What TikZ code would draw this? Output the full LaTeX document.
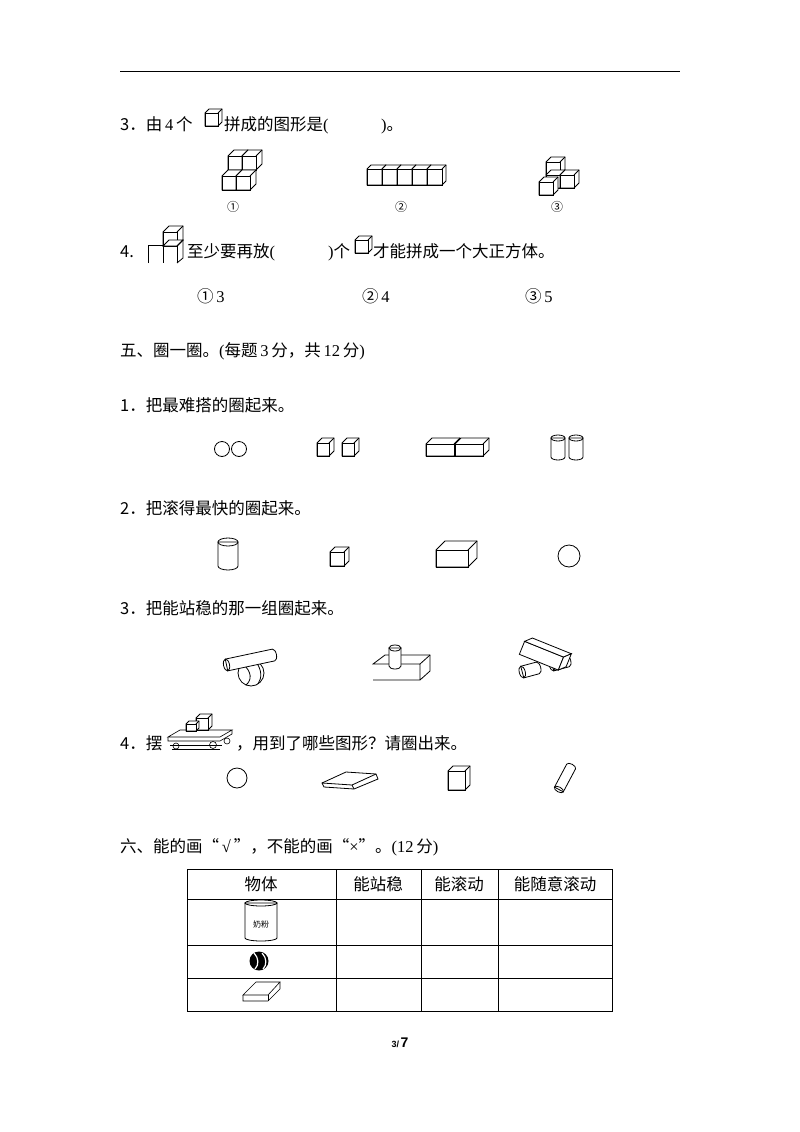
\documentclass[tikz,border=0pt]{standalone}
\usepackage{fontspec}
\setmainfont{Liberation Serif}
\newfontfamily\cjk{Noto Sans CJK SC}
\newfontfamily\ftsans{Liberation Sans}
\tikzset{txt/.style={anchor=base west,inner sep=0pt,font=\fontsize{16.5}{19}\selectfont\cjk},
 ln/.style={line width=0.8pt}}
\newcommand\cuboid[5]{% x y(top-left of front) w h d
 \filldraw[ln,fill=white] (#1,#2) -- ++(#5,-#5) -- ++(#3,0) -- ++(0,#4) -- ++(-#5,#5) -- ++(-#3,0) -- cycle;
 \draw[ln] (#1,#2) rectangle ++(#3,#4); \draw[ln] (#1+#3,#2) -- ++(#5,-#5);}
\newcommand\cyl[5]{% cx top r h ry
 \filldraw[ln,fill=white] (#1-#3,#2) -- (#1-#3,#2+#4) arc[start angle=180,end angle=0,x radius=#3,y radius=#5] -- (#1+#3,#2) -- cycle;
 \draw[ln] (#1,#2) ellipse[x radius=#3,y radius=#5];}
\newcommand\rod[5]{% cx cy length r angle
 \begin{scope}[shift={(#1,#2)},rotate=#5]
 \filldraw[ln,fill=white] (-#3/2,-#4) -- (#3/2,-#4) arc[start angle=-90,end angle=90,x radius=#4/2,y radius=#4] -- (-#3/2,#4) -- cycle;
 \draw[ln] (-#3/2,0) ellipse[x radius=#4/2,y radius=#4];
 \end{scope}}
\begin{document}
\begin{tikzpicture}[x=1pt,y=-1pt]
\useasboundingbox (0,0) rectangle (800,1132);
\draw[line width=1pt] (120,72) -- (680,72);
% Q3
\node[txt] (q3a) at (120,130) {3．由\,\textrm{4}\,个};
\cuboid{205}{113}{13}{13}{4}
\node[txt] (q3b) at (224,130) {拼成的图形是\textrm{(}};
\node[txt] (q3c) at (381,130) {\textrm{)}。};
% fig 1
\cuboid{228}{156}{14}{14}{6}\cuboid{242}{156}{14}{14}{6}
\cuboid{222}{176}{14}{14}{6}\cuboid{236}{176}{14}{14}{6}
% fig 2
\foreach \i in {0,...,4}{\cuboid{367+15*\i}{169}{15}{16}{4}}
% fig 3
\cuboid{546}{162}{14}{13}{5}\cuboid{546}{175}{14}{13}{5}\cuboid{560}{175}{14}{13}{5}\cuboid{539}{182}{14}{13}{5}
\node[txt,anchor=base] (l1) at (233,211) {\fontsize{12}{12}\selectfont ①};
\node[txt,anchor=base] (l2) at (401,211) {\fontsize{12}{12}\selectfont ②};
\node[txt,anchor=base] (l3) at (557,211) {\fontsize{12}{12}\selectfont ③};
% Q4
\node[txt] (q4a) at (120,257) {4.};
\draw[ln] (148,263) -- (148,245) -- (163,245) -- (163,263);
\cuboid{163}{232}{14}{14}{6}\cuboid{163}{246}{14}{0}{6}
\draw[ln] (177,246) -- (177,263); \draw[ln] (183,240) -- (183,258) -- (177,263);
\node[txt] (q4b) at (187,257) {至少要再放\textrm{(}};
\node[txt] (q4c) at (328,257) {\textrm{)}个};
\cuboid{355}{240}{13}{13}{4}
\node[txt] (q4d) at (373,257) {才能拼成一个大正方体。};
\node[txt] (o1) at (197,302) {①\,\textrm{3}};
\node[txt] (o2) at (362,302) {②\,\textrm{4}};
\node[txt] (o3) at (525,302) {③\,\textrm{5}};
% section 5
\node[txt] (s5) at (120,356) {五、圈一圈。\textrm{(}每题\,\textrm{3}\,分，共\,\textrm{12}\,分\textrm{)}};
\node[txt] (p1) at (120,411) {1．把最难搭的圈起来。};
\draw[ln] (222,449) circle (7.5); \draw[ln] (239,449) circle (7.5);
\cuboid{317}{443}{12}{13}{5}\cuboid{342}{443}{12}{13}{5}
\cuboid{426}{444}{28}{12}{6}\cuboid{455}{444}{28}{12}{6}
\cyl{558}{438}{7}{19}{3}\cyl{576}{438}{7}{19}{3}
\node[txt] (p2) at (120,514) {2．把滚得最快的圈起来。};
\cyl{228}{542}{10}{24}{4}
\cuboid{330}{552}{14}{14}{5}
\cuboid{436}{550}{32}{17}{9}
\draw[ln] (569,556) circle (11);
\node[txt] (p3) at (120,614) {3．把能站稳的那一组圈起来。};
% group1
\draw[ln,fill=white] (251,673) circle (13);
\draw[ln] (243,664) .. controls (252,672) and (252,680) .. (246,685);
\draw[ln] (256,662) .. controls (262,670) and (262,678) .. (258,684);
\rod{250}{660}{48}{6}{12}
% group2
\filldraw[ln,fill=white] (373,680) -- (420,680) -- (420,664) -- (373,664) -- (385,655) -- (430,655) -- (430,671) -- (420,680);
\draw[ln] (420,664) -- (430,655);
\cyl{395}{648}{6}{18}{3}
% group3
\rod{530}{670}{16}{6}{15}
\rod{560}{663}{16}{6}{15}
\begin{scope}[shift={(542,657)},rotate=-22]
\filldraw[ln,fill=white] (-22,-8) -- (20,-8) -- (20,6) -- (-22,6) -- cycle;
\filldraw[ln,fill=white] (-22,-8) -- (-16,-14) -- (26,-14) -- (20,-8) -- cycle;
\filldraw[ln,fill=white] (20,-8) -- (26,-14) -- (26,0) -- (20,6) -- cycle;
\end{scope}
% Q4 (sec5)
\node[txt] (p4a) at (120,749) {4．摆};
\begin{scope}[line width=0.6pt]
\filldraw[fill=white] (168,737) -- (220,737) -- (232,730) -- (180,730) -- cycle;
\draw (168,737) -- (168,741) -- (220,741) -- (232,734) -- (232,730);
\draw (170,745) -- (222,745); \draw (172,749) -- (220,749);
\draw (176,746) circle (3); \draw (213,745) circle (3.5); \draw (227,741) circle (3);
\cuboid{196}{718}{12}{12}{4}\cuboid{186}{724}{10}{7}{3}
\end{scope}
\node[txt] (p4b) at (236,749) {，用到了哪些图形？请圈出来。};
\draw[ln] (237,778) circle (10);
\filldraw[ln,fill=white] (322,783) -- (346,772) -- (376,774) -- (378,779) -- (354,789) -- (324,787) -- cycle;
\draw[ln] (322,783) -- (352,785) -- (376,774); \draw[ln] (352,785) -- (354,789);
\cuboid{448}{771}{17}{19}{5}
\rod{565}{778}{26}{5}{62}
% section 6
\node[txt] (s6) at (120,852) {六、能的画“\,\textrm{√}\,”，不能的画“\textrm{×}”。\textrm{(12}\,分\textrm{)}};
\draw[line width=0.9pt] (187,869) rectangle (612,1011);
\foreach \x in {336,421,498}{\draw[line width=0.7pt] (\x,869) -- (\x,1011);}
\foreach \y in {899,945,978}{\draw[line width=0.7pt] (187,\y) -- (612,\y);}
\node[txt,anchor=base] (h1) at (261,890) {物体};
\node[txt,anchor=base] (h2) at (378,890) {能站稳};
\node[txt,anchor=base] (h3) at (459,890) {能滚动};
\node[txt,anchor=base] (h4) at (555,890) {能随意滚动};
\cyl{261}{903}{16}{35}{3}
\node[anchor=center,inner sep=0pt,font=\fontsize{8}{8}\selectfont\cjk] (can) at (261,924) {奶粉};
\fill (259,961) circle (9.5);
\draw[white,line width=1.2pt] (254,953) .. controls (259,958) and (259,965) .. (255,969);
\draw[white,line width=1.2pt] (262,953) .. controls (267,958) and (267,965) .. (263,969);
\filldraw[line width=0.6pt,fill=white] (243,995) -- (256,982) -- (280,982) -- (268,995) -- cycle;
\draw[line width=0.6pt] (243,995) -- (243,1001) -- (268,1001) -- (280,989) -- (280,982); \draw[line width=0.6pt] (268,995) -- (268,1001);
\node[anchor=base,inner sep=0pt] (pg) at (400,1047) {\ftsans\bfseries{\fontsize{9}{9}\selectfont 3/}\,{\fontsize{14}{14}\selectfont 7}};
\end{tikzpicture}
\end{document}
